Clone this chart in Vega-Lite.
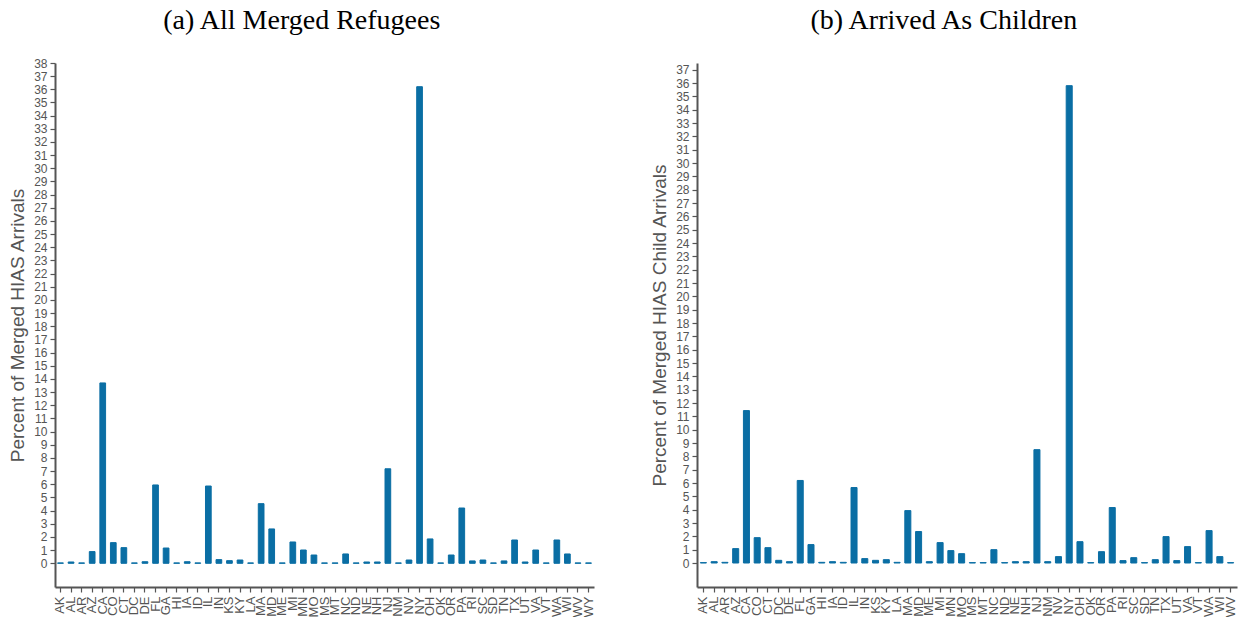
{
  "$schema": "https://vega.github.io/schema/vega-lite/v6.json",
  "background": "white",
  "padding": {"left": 8, "top": 7, "right": 2, "bottom": 2},
  "spacing": 54,
  "datasets": {
    "all": [
      {"state": "AK", "pct": 0.03}, {"state": "AL", "pct": 0.1}, {"state": "AR", "pct": 0.03},
      {"state": "AZ", "pct": 0.89}, {"state": "CA", "pct": 13.7}, {"state": "CO", "pct": 1.57},
      {"state": "CT", "pct": 1.19}, {"state": "DC", "pct": 0.03}, {"state": "DE", "pct": 0.12},
      {"state": "FL", "pct": 5.95}, {"state": "GA", "pct": 1.16}, {"state": "HI", "pct": 0.03},
      {"state": "IA", "pct": 0.12}, {"state": "ID", "pct": 0.03}, {"state": "IL", "pct": 5.87},
      {"state": "IN", "pct": 0.28}, {"state": "KS", "pct": 0.2}, {"state": "KY", "pct": 0.25},
      {"state": "LA", "pct": 0.03}, {"state": "MA", "pct": 4.53}, {"state": "MD", "pct": 2.61},
      {"state": "ME", "pct": 0.03}, {"state": "MI", "pct": 1.62}, {"state": "MN", "pct": 1.01},
      {"state": "MO", "pct": 0.63}, {"state": "MS", "pct": 0.03}, {"state": "MT", "pct": 0.03},
      {"state": "NC", "pct": 0.71}, {"state": "ND", "pct": 0.03}, {"state": "NE", "pct": 0.1},
      {"state": "NH", "pct": 0.1}, {"state": "NJ", "pct": 7.18}, {"state": "NM", "pct": 0.03},
      {"state": "NV", "pct": 0.25}, {"state": "NY", "pct": 36.2}, {"state": "OH", "pct": 1.85},
      {"state": "OK", "pct": 0.03}, {"state": "OR", "pct": 0.63}, {"state": "PA", "pct": 4.2},
      {"state": "RI", "pct": 0.18}, {"state": "SC", "pct": 0.25}, {"state": "SD", "pct": 0.03},
      {"state": "TN", "pct": 0.18}, {"state": "TX", "pct": 1.77}, {"state": "UT", "pct": 0.1},
      {"state": "VA", "pct": 1.01}, {"state": "VT", "pct": 0.03}, {"state": "WA", "pct": 1.77},
      {"state": "WI", "pct": 0.71}, {"state": "WV", "pct": 0.03}, {"state": "WY", "pct": 0.03}
    ],
    "children": [
      {"state": "AK", "pct": 0.03}, {"state": "AL", "pct": 0.1}, {"state": "AR", "pct": 0.05},
      {"state": "AZ", "pct": 1.08}, {"state": "CA", "pct": 11.43}, {"state": "CO", "pct": 1.9},
      {"state": "CT", "pct": 1.15}, {"state": "DC", "pct": 0.2}, {"state": "DE", "pct": 0.1},
      {"state": "FL", "pct": 6.19}, {"state": "GA", "pct": 1.38}, {"state": "HI", "pct": 0.05},
      {"state": "IA", "pct": 0.1}, {"state": "ID", "pct": 0.05}, {"state": "IL", "pct": 5.66},
      {"state": "IN", "pct": 0.33}, {"state": "KS", "pct": 0.2}, {"state": "KY", "pct": 0.25},
      {"state": "LA", "pct": 0.05}, {"state": "MA", "pct": 3.93}, {"state": "MD", "pct": 2.36},
      {"state": "ME", "pct": 0.1}, {"state": "MI", "pct": 1.53}, {"state": "MN", "pct": 0.93},
      {"state": "MO", "pct": 0.7}, {"state": "MS", "pct": 0.03}, {"state": "MT", "pct": 0.03},
      {"state": "NC", "pct": 1.0}, {"state": "ND", "pct": 0.03}, {"state": "NE", "pct": 0.1},
      {"state": "NH", "pct": 0.1}, {"state": "NJ", "pct": 8.5}, {"state": "NM", "pct": 0.1},
      {"state": "NV", "pct": 0.48}, {"state": "NY", "pct": 35.8}, {"state": "OH", "pct": 1.6},
      {"state": "OK", "pct": 0.03}, {"state": "OR", "pct": 0.85}, {"state": "PA", "pct": 4.16},
      {"state": "RI", "pct": 0.18}, {"state": "SC", "pct": 0.4}, {"state": "SD", "pct": 0.03},
      {"state": "TN", "pct": 0.25}, {"state": "TX", "pct": 1.98}, {"state": "UT", "pct": 0.18},
      {"state": "VA", "pct": 1.23}, {"state": "VT", "pct": 0.03}, {"state": "WA", "pct": 2.43},
      {"state": "WI", "pct": 0.48}, {"state": "WV", "pct": 0.03}
    ]
  },
  "hconcat": [
    {
      "title": {"text": "(a) All Merged Refugees", "offset": 22},
      "width": 539,
      "height": 524,
      "data": {"name": "all"},
      "mark": {"type": "bar", "color": "#0a6ea4", "stroke": "#0a6ea4", "strokeWidth": 1},
      "encoding": {
        "x": {
          "field": "state", "type": "nominal", "sort": null, "title": null,
          "scale": {"paddingInner": 0.46, "paddingOuter": 0.25}
        },
        "y": {
          "field": "pct", "type": "quantitative",
          "title": "Percent of Merged HIAS Arrivals",
          "scale": {"domain": [-1.8, 38], "nice": false, "zero": false},
          "axis": {"values": [0,1,2,3,4,5,6,7,8,9,10,11,12,13,14,15,16,17,18,19,20,21,22,23,24,25,26,27,28,29,30,31,32,33,34,35,36,37,38]}
        }
      }
    },
    {
      "title": {"text": "(b) Arrived As Children", "offset": 28},
      "width": 540,
      "height": 524,
      "data": {"name": "children"},
      "mark": {"type": "bar", "color": "#0a6ea4", "stroke": "#0a6ea4", "strokeWidth": 1},
      "encoding": {
        "x": {
          "field": "state", "type": "nominal", "sort": null, "title": null,
          "scale": {"paddingInner": 0.44, "paddingOuter": 0.315}
        },
        "y": {
          "field": "pct", "type": "quantitative",
          "title": "Percent of Merged HIAS Child Arrivals",
          "scale": {"domain": [-1.8, 37.5], "nice": false, "zero": false},
          "axis": {"values": [0,1,2,3,4,5,6,7,8,9,10,11,12,13,14,15,16,17,18,19,20,21,22,23,24,25,26,27,28,29,30,31,32,33,34,35,36,37]}
        }
      }
    }
  ],
  "config": {
    "view": {"stroke": null},
    "title": {"font": "Liberation Serif", "fontSize": 28, "fontWeight": "normal", "color": "#000000", "anchor": "middle", "frame": "bounds"},
    "axis": {
      "grid": false,
      "domainColor": "#555555",
      "domainWidth": 2,
      "tickColor": "#555555",
      "tickSize": 5,
      "tickWidth": 1.2,
      "labelFont": "Liberation Sans",
      "labelFontSize": 13,
      "labelColor": "#555555",
      "labelPadding": 3,
      "titleFont": "Liberation Sans",
      "titleFontSize": 19,
      "titleFontWeight": "normal",
      "titleColor": "#555555"
    },
    "axisY": {"titlePadding": 6, "labelBound": false, "labelFontSize": 12},
    "axisX": {"labelAngle": -90, "labelAlign": "right", "labelBaseline": "middle", "labelPadding": 4}
  }
}
